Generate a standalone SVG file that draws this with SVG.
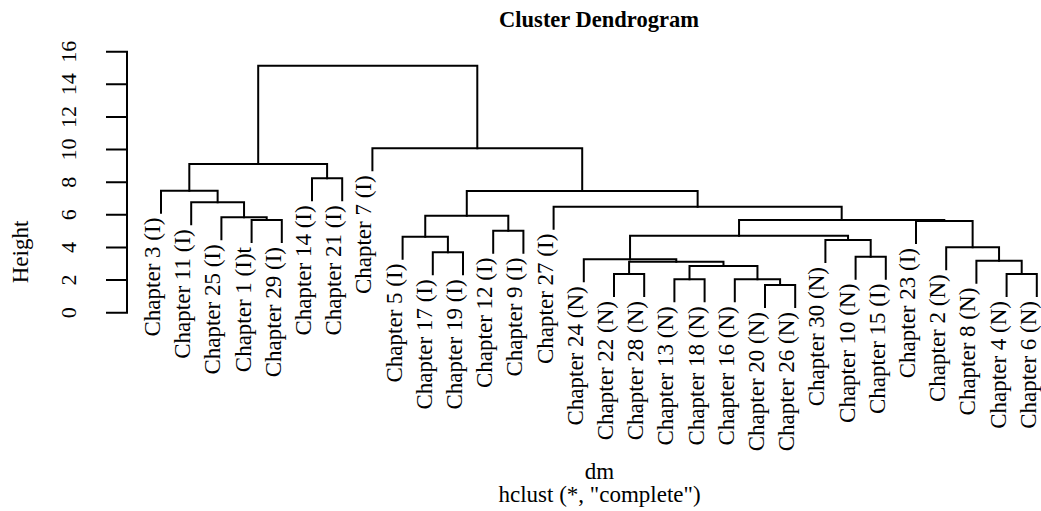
<svg xmlns="http://www.w3.org/2000/svg" width="1041" height="511" viewBox="0 0 1041 511">
<style>
text{font-family:"Liberation Serif","Times New Roman",serif;fill:#000;font-size:23px}
.lbl{text-anchor:end}
.tick{text-anchor:middle;font-size:22px}
.ttl{font-weight:bold;font-size:22.5px;text-anchor:middle}
.mid{text-anchor:middle}
.ln{fill:none;stroke:#000;stroke-width:2;stroke-linejoin:miter;stroke-linecap:square}
</style>
<rect width="1041" height="511" fill="#fff"/>
<text class="ttl" x="599" y="26.7">Cluster Dendrogram</text>
<g id="axis">
<path class="ln" d="M127,312.7 V51.7 M107,312.7 H127 M107,280.1 H127 M107,247.4 H127 M107,214.8 H127 M107,182.2 H127 M107,149.5 H127 M107,116.9 H127 M107,84.3 H127 M107,51.7 H127"/>
<text class="tick" transform="translate(76,312.7) rotate(-90)">0</text>
<text class="tick" transform="translate(76,280.1) rotate(-90)">2</text>
<text class="tick" transform="translate(76,247.4) rotate(-90)">4</text>
<text class="tick" transform="translate(76,214.8) rotate(-90)">6</text>
<text class="tick" transform="translate(76,182.2) rotate(-90)">8</text>
<text class="tick" transform="translate(76,149.5) rotate(-90)">10</text>
<text class="tick" transform="translate(76,116.9) rotate(-90)">12</text>
<text class="tick" transform="translate(76,84.3) rotate(-90)">14</text>
<text class="tick" transform="translate(76,51.7) rotate(-90)">16</text>
<text class="mid" transform="translate(28,252) rotate(-90)">Height</text>
</g>
<g id="connectors">
<path class="ln" d="M251.6,242 V220 H281.8 V242"/>
<path class="ln" d="M221.4,239.3 V217.3 H266.7 V220"/>
<path class="ln" d="M191.2,224.3 V202.3 H244.05 V217.3"/>
<path class="ln" d="M161,212.7 V190.7 H217.63 V202.3"/>
<path class="ln" d="M312,200.3 V178.3 H342.2 V200.3"/>
<path class="ln" d="M189.31,190.7 V164 H327.1 V178.3"/>
<path class="ln" d="M432.8,274.3 V252.3 H463 V274.3"/>
<path class="ln" d="M402.6,258.7 V236.7 H447.9 V252.3"/>
<path class="ln" d="M493.2,252.7 V230.7 H523.4 V252.7"/>
<path class="ln" d="M425.25,236.7 V215.7 H508.3 V230.7"/>
<path class="ln" d="M614,296 V274 H644.2 V296"/>
<path class="ln" d="M674.4,301.3 V279.3 H704.6 V301.3"/>
<path class="ln" d="M765,307 V285 H795.2 V307"/>
<path class="ln" d="M734.8,301.3 V279.3 H780.1 V285"/>
<path class="ln" d="M689.5,279.3 V266 H757.45 V279.3"/>
<path class="ln" d="M629.1,274 V261.7 H723.48 V266"/>
<path class="ln" d="M583.8,281.3 V259.3 H676.29 V261.7"/>
<path class="ln" d="M855.6,278.7 V256.7 H885.8 V278.7"/>
<path class="ln" d="M825.4,262 V240 H870.7 V256.7"/>
<path class="ln" d="M630.05,259.3 V235.7 H848.05 V240"/>
<path class="ln" d="M1006.6,296 V274 H1036.8 V296"/>
<path class="ln" d="M976.4,282.7 V260.7 H1021.7 V274"/>
<path class="ln" d="M946.2,269.3 V247.3 H999.05 V260.7"/>
<path class="ln" d="M916,243 V221 H972.63 V247.3"/>
<path class="ln" d="M739.05,235.7 V220 H944.31 V221"/>
<path class="ln" d="M553.6,228.7 V206.7 H841.68 V220"/>
<path class="ln" d="M466.78,215.7 V191 H697.64 V206.7"/>
<path class="ln" d="M372.4,170.3 V148.3 H582.21 V191"/>
<path class="ln" d="M258.2,164 V65.7 H477.3 V148.3"/>
</g>
<g id="leaf-ch3"><text class="lbl" transform="translate(160,217.7) rotate(-90)">Chapter 3 (I)</text></g>
<g id="leaf-ch11"><text class="lbl" transform="translate(190.2,229.3) rotate(-90)">Chapter 11 (I)</text></g>
<g id="leaf-ch25"><text class="lbl" transform="translate(220.4,244.3) rotate(-90)">Chapter 25 (I)</text></g>
<g id="leaf-ch1"><text class="lbl" transform="translate(250.6,247) rotate(-90)">Chapter 1 (I)t</text></g>
<g id="leaf-ch29"><text class="lbl" transform="translate(280.8,247) rotate(-90)">Chapter 29 (I)</text></g>
<g id="leaf-ch14"><text class="lbl" transform="translate(311,205.3) rotate(-90)">Chapter 14 (I)</text></g>
<g id="leaf-ch21"><text class="lbl" transform="translate(341.2,205.3) rotate(-90)">Chapter 21 (I)</text></g>
<g id="leaf-ch7"><text class="lbl" transform="translate(371.4,175.3) rotate(-90)">Chapter 7 (I)</text></g>
<g id="leaf-ch5"><text class="lbl" transform="translate(401.6,263.7) rotate(-90)">Chapter 5 (I)</text></g>
<g id="leaf-ch17"><text class="lbl" transform="translate(431.8,279.3) rotate(-90)">Chapter 17 (I)</text></g>
<g id="leaf-ch19"><text class="lbl" transform="translate(462,279.3) rotate(-90)">Chapter 19 (I)</text></g>
<g id="leaf-ch12"><text class="lbl" transform="translate(492.2,257.7) rotate(-90)">Chapter 12 (I)</text></g>
<g id="leaf-ch9"><text class="lbl" transform="translate(522.4,257.7) rotate(-90)">Chapter 9 (I)</text></g>
<g id="leaf-ch27"><text class="lbl" transform="translate(552.6,233.7) rotate(-90)">Chapter 27 (I)</text></g>
<g id="leaf-ch24"><text class="lbl" transform="translate(582.8,286.3) rotate(-90)">Chapter 24 (N)</text></g>
<g id="leaf-ch22"><text class="lbl" transform="translate(613,301) rotate(-90)">Chapter 22 (N)</text></g>
<g id="leaf-ch28"><text class="lbl" transform="translate(643.2,301) rotate(-90)">Chapter 28 (N)</text></g>
<g id="leaf-ch13"><text class="lbl" transform="translate(673.4,306.3) rotate(-90)">Chapter 13 (N)</text></g>
<g id="leaf-ch18"><text class="lbl" transform="translate(703.6,306.3) rotate(-90)">Chapter 18 (N)</text></g>
<g id="leaf-ch16"><text class="lbl" transform="translate(733.8,306.3) rotate(-90)">Chapter 16 (N)</text></g>
<g id="leaf-ch20"><text class="lbl" transform="translate(764,312) rotate(-90)">Chapter 20 (N)</text></g>
<g id="leaf-ch26"><text class="lbl" transform="translate(794.2,312) rotate(-90)">Chapter 26 (N)</text></g>
<g id="leaf-ch30"><text class="lbl" transform="translate(824.4,267) rotate(-90)">Chapter 30 (N)</text></g>
<g id="leaf-ch10"><text class="lbl" transform="translate(854.6,283.7) rotate(-90)">Chapter 10 (N)</text></g>
<g id="leaf-ch15"><text class="lbl" transform="translate(884.8,283.7) rotate(-90)">Chapter 15 (I)</text></g>
<g id="leaf-ch23"><text class="lbl" transform="translate(915,248) rotate(-90)">Chapter 23 (I)</text></g>
<g id="leaf-ch2"><text class="lbl" transform="translate(945.2,274.3) rotate(-90)">Chapter 2 (N)</text></g>
<g id="leaf-ch8"><text class="lbl" transform="translate(975.4,287.7) rotate(-90)">Chapter 8 (N)</text></g>
<g id="leaf-ch4"><text class="lbl" transform="translate(1005.6,301) rotate(-90)">Chapter 4 (N)</text></g>
<g id="leaf-ch6"><text class="lbl" transform="translate(1035.8,301) rotate(-90)">Chapter 6 (N)</text></g>
<text class="mid" x="599.5" y="479">dm</text>
<text class="mid" x="599.5" y="502">hclust (*, "complete")</text>
</svg>
